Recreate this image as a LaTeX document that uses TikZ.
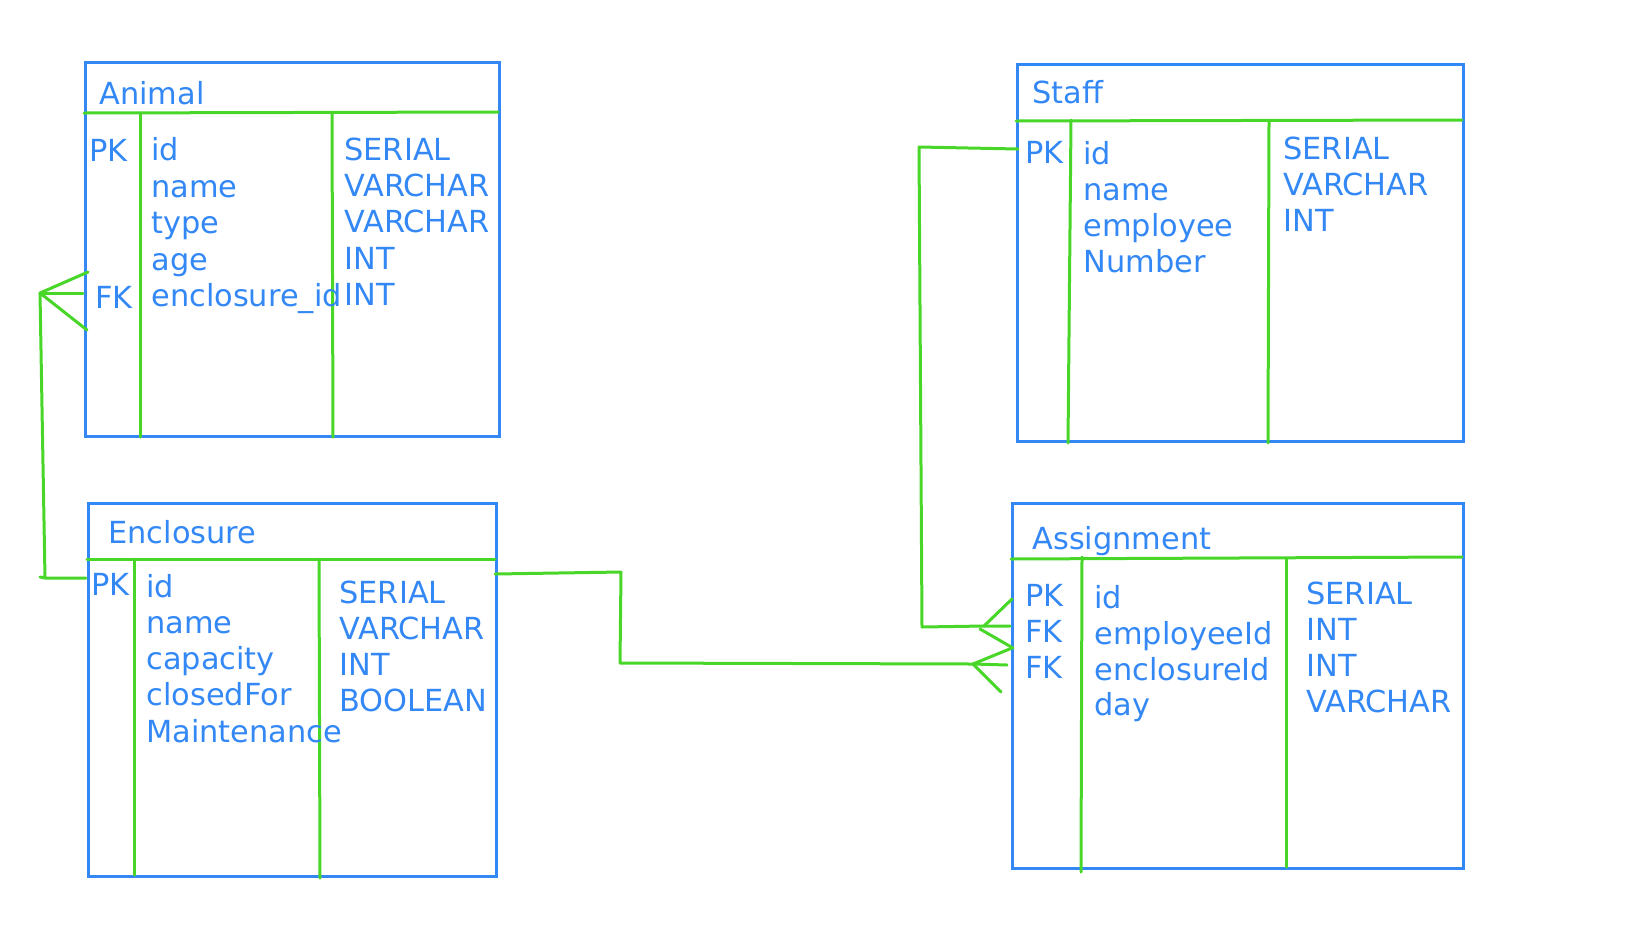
\documentclass[tikz,border=0pt]{standalone}
\usepackage{fontspec}
\setmainfont{DejaVu Sans}
\usetikzlibrary{calc, positioning}
\definecolor{erblue}{RGB}{51,136,245}
\definecolor{ergreen}{RGB}{72,214,40}

\begin{document}
\begin{tikzpicture}[x=0.5pt, y=-0.5pt]
        \useasboundingbox (0,0) rectangle (1648,927);

        \tikzstyle{tbl} = [draw=erblue, line width=1.5pt, inner sep=0, anchor=north west];
        \tikzstyle{g} = [draw=ergreen, line width=1.5pt, line cap=round, line join=round];
        \tikzstyle{txt} = [text=erblue, inner sep=0, anchor=base west, font=\fontsize{15.2}{18}\selectfont];

        % tables
        \node [tbl, minimum width=207pt, minimum height=187pt] (animal) at (84,61) {};
        \node [tbl, minimum width=204pt, minimum height=186.5pt] (encl) at (87,502) {};
        \node [tbl, minimum width=223pt, minimum height=188.5pt] (staff) at (1016,63) {};
        \node [tbl, minimum width=225.5pt, minimum height=182.5pt] (assign) at (1011,502) {};

        % header and column lines
        \draw [g] (84,113) -- (498,112);
        \draw [g] (140,113) -- (140,437);
        \draw [g] (332,113) -- (333,437);

        \draw [g] (87,559) -- (495,559);
        \draw [g] (134,559) -- (134,875);
        \draw [g] (319,559) -- (320,878);

        \draw [g] (1016,121) -- (1462,120);
        \draw [g] (1071,120) -- (1068,443);
        \draw [g] (1269,121) -- (1268,443);

        \draw [g] (1011,559) -- (1462,557);
        \draw [g] (1082,557) -- (1081,872);
        \draw [g] (1286,558) -- (1286,867);

        % Animal
        \node [txt] (an-t) at (99,104) {Animal};
        \node [txt] (an-pk) at (89,161) {PK};
        \node [txt] (an-fk) at (95,308) {FK};
        \foreach \f [count=\i] in {id, name, type, age, enclosure\_id}{
            \node [txt] (an-f\i) at (151, 124.5+36.4*\i) {\f};
        }
        \foreach \f [count=\i] in {SERIAL, VARCHAR, VARCHAR, INT, INT}{
            \node [txt] (an-y\i) at (344, 124+36.3*\i) {\f};
        }

        % Enclosure
        \node [txt] (en-t) at (108,543) {Enclosure};
        \node [txt] (en-pk) at (91,595) {PK};
        \foreach \f [count=\i] in {id, name, capacity, closedFor, Maintenance}{
            \node [txt] (en-f\i) at (146, 561+36.2*\i) {\f};
        }
        \foreach \f [count=\i] in {SERIAL, VARCHAR, INT, BOOLEAN}{
            \node [txt] (en-y\i) at (339, 567+36*\i) {\f};
        }

        % Staff
        \node [txt] (st-t) at (1032,103) {Staff};
        \node [txt] (st-pk) at (1025,163) {PK};
        \foreach \f [count=\i] in {id, name, employee, Number}{
            \node [txt] (st-f\i) at (1083, 128+36.1*\i) {\f};
        }
        \foreach \f [count=\i] in {SERIAL, VARCHAR, INT}{
            \node [txt] (st-y\i) at (1283, 123+36.2*\i) {\f};
        }

        % Assignment
        \node [txt] (as-t) at (1032,549) {Assignment};
        \foreach \f [count=\i] in {PK, FK, FK}{
            \node [txt] (as-k\i) at (1025, 571+35.8*\i) {\f};
        }
        \foreach \f [count=\i] in {id, employeeId, enclosureId, day}{
            \node [txt] (as-f\i) at (1094, 572.3+35.9*\i) {\f};
        }
        \foreach \f [count=\i] in {SERIAL, INT, INT, VARCHAR}{
            \node [txt] (as-y\i) at (1306, 569+35.8*\i) {\f};
        }

        % Animal -- Enclosure
        \coordinate (an-crow) at (40,293);
        \coordinate (en-bend) at (45,578);
        \coordinate (en-pkl) at (86,578);
        \draw [g] (an-crow) -- (88,272);
        \draw [g] (an-crow) -- (83,293);
        \draw [g] (an-crow) -- (87,330);
        \draw [g] (an-crow) -- (en-bend) -- (en-pkl);
        \draw [g] (40,577) -- (en-bend);

        % Enclosure -- Assignment
        \coordinate (en-out) at (495,574);
        \coordinate (en-b1) at (621,572);
        \coordinate (en-b2) at (620,663);
        \coordinate (as-crow2) at (973,664);
        \draw [g] (en-out) -- (en-b1) -- (en-b2) -- (as-crow2) -- (1007,665);
        \draw [g] (as-crow2) -- (1012,648);
        \draw [g] (as-crow2) -- (1001,692);

        % Staff -- Assignment
        \coordinate (st-out) at (1018,149);
        \coordinate (st-b1) at (919,147);
        \coordinate (st-b2) at (922,627);
        \coordinate (as-crow1) at (984,626);
        \draw [g] (st-out) -- (st-b1) -- (st-b2) -- (as-crow1) -- (1010,626);
        \draw [g] (as-crow1) -- (1012,599);
        \draw [g] (980,629) -- (1013,648);
    \end{tikzpicture}
\end{document}
